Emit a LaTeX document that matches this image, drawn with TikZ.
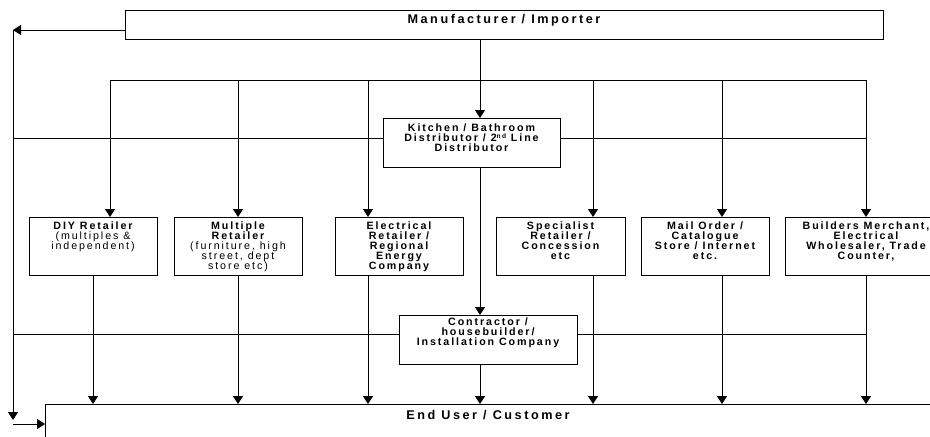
\documentclass[tikz,border=0pt]{standalone}
\usepackage{fontspec}
\setmainfont{Liberation Sans}[LetterSpace=18]
\newfontfamily\bigfam{Liberation Sans}[LetterSpace=20]
\usetikzlibrary{arrows.meta}
\newcommand\supnd{\raisebox{0.22em}{\fontsize{5}{5}\selectfont nd}}
\tikzset{
  sz/.style 2 args={minimum width=#1*0.75pt, minimum height=#2*0.75pt},
  box/.style={draw, line width=0.75pt, rectangle, inner sep=0pt, anchor=north west},
  lbl/.style={anchor=north, align=center, inner sep=0pt, font=\fontsize{8}{7.6}\selectfont\bfseries},
  big/.style={anchor=center, inner sep=0pt, font=\bigfam\fontsize{9.5}{9.5}\selectfont\bfseries},
  arr/.style={-{Triangle[width=7.5pt,length=6pt]}, line width=0.75pt},
  ln/.style={line width=0.75pt}
}
\begin{document}
\begin{tikzpicture}[x=0.75pt,y=-0.75pt]
\useasboundingbox (0,0) rectangle (930,436);
\clip (0,0) rectangle (930,436);
\fill[white] (0,0) rectangle (930,436);

% boxes
\node[box, sz={758}{29}] (man) at (125,10) {};
\node[big] (mant) at (504,20) {Manufacturer / Importer};
\node[box, sz={177}{49}] (kit) at (383,118) {};
\node[lbl] (kitt) at (471.5,123) {Kitchen / Bathroom\\Distributor / 2\supnd\ Line\\Distributor};
\node[box, sz={128}{58}] (diy) at (29,217) {};
\node[lbl] (diyt) at (93,221) {DIY Retailer\\\mdseries(multiples \&\\\mdseries independent)};
\node[box, sz={128}{58}] (mult) at (174,217) {};
\node[lbl] (multt) at (238,221) {Multiple\\Retailer\\\mdseries(furniture, high\\\mdseries street, dept\\\mdseries store etc)};
\node[box, sz={128}{58}] (elec) at (335,217) {};
\node[lbl] (elect) at (399,221) {Electrical\\Retailer /\\Regional\\Energy\\Company};
\node[box, sz={129}{58}] (spec) at (496,217) {};
\node[lbl] (spect) at (560.5,221) {Specialist\\Retailer /\\Concession\\etc};
\node[box, sz={128}{58}] (mail) at (641,217) {};
\node[lbl] (mailt) at (705,221) {Mail Order /\\Catalogue\\Store / Internet\\etc.};
\node[box, sz={170}{58}] (bld) at (785,217) {};
\node[lbl] (bldt) at (866,221) {Builders Merchant,\\Electrical\\Wholesaler, Trade\\Counter,};
\node[box, sz={178}{49}] (con) at (399,315) {};
\node[lbl] (cont) at (488,317) {Contractor /\\housebuilder/\\Installation Company};
\node[box, sz={920}{60}] (eu) at (45,404) {};
\node[big] (eut) at (488,415) {End User / Customer};

% coordinates
\coordinate (L1) at (13,30);
\coordinate (L2) at (13,420);
\coordinate (L3) at (13,424);
\coordinate (k) at (480,39);
\coordinate (b1) at (110,80);
\coordinate (b2) at (238,80);
\coordinate (b3) at (368,80);
\coordinate (b4) at (593,80);
\coordinate (b5) at (722,80);
\coordinate (b6) at (866,80);
\coordinate (h1) at (13,138);
\coordinate (h2) at (13,334);
\coordinate (d1) at (93,80);

% left loop
\draw[arr] (man.west |- L1) -- (L1);
\draw[arr] (L1) -- (L2);
\draw[arr] (L3) -- (eu.west |- L3);

% manufacturer -> kitchen
\draw[arr] (k |- man.south) -- (k |- kit.north);

% top bus
\draw[ln] (b1) -- (b6);
\draw[arr] (b1) -- (b1 |- diy.north);
\draw[arr] (b2) -- (b2 |- mult.north);
\draw[arr] (b3) -- (b3 |- elec.north);
\draw[arr] (b4) -- (b4 |- spec.north);
\draw[arr] (b5) -- (b5 |- mail.north);
\draw[arr] (b6) -- (b6 |- bld.north);

% kitchen bus
\draw[ln] (h1) -- (h1 -| kit.west);
\draw[ln] (kit.east |- h1) -- (b6 |- h1);

% kitchen -> contractor -> end user
\draw[arr] (k |- kit.south) -- (k |- con.north);
\draw[arr] (k |- con.south) -- (k |- eu.north);

% contractor bus
\draw[ln] (h2) -- (h2 -| con.west);
\draw[ln] (con.east |- h2) -- (b6 |- h2);

% retailers -> end user
\draw[arr] (d1 |- diy.south) -- (d1 |- eu.north);
\draw[arr] (b2 |- mult.south) -- (b2 |- eu.north);
\draw[arr] (b3 |- elec.south) -- (b3 |- eu.north);
\draw[arr] (b4 |- spec.south) -- (b4 |- eu.north);
\draw[arr] (b5 |- mail.south) -- (b5 |- eu.north);
\draw[arr] (b6 |- bld.south) -- (b6 |- eu.north);
\end{tikzpicture}
\end{document}
